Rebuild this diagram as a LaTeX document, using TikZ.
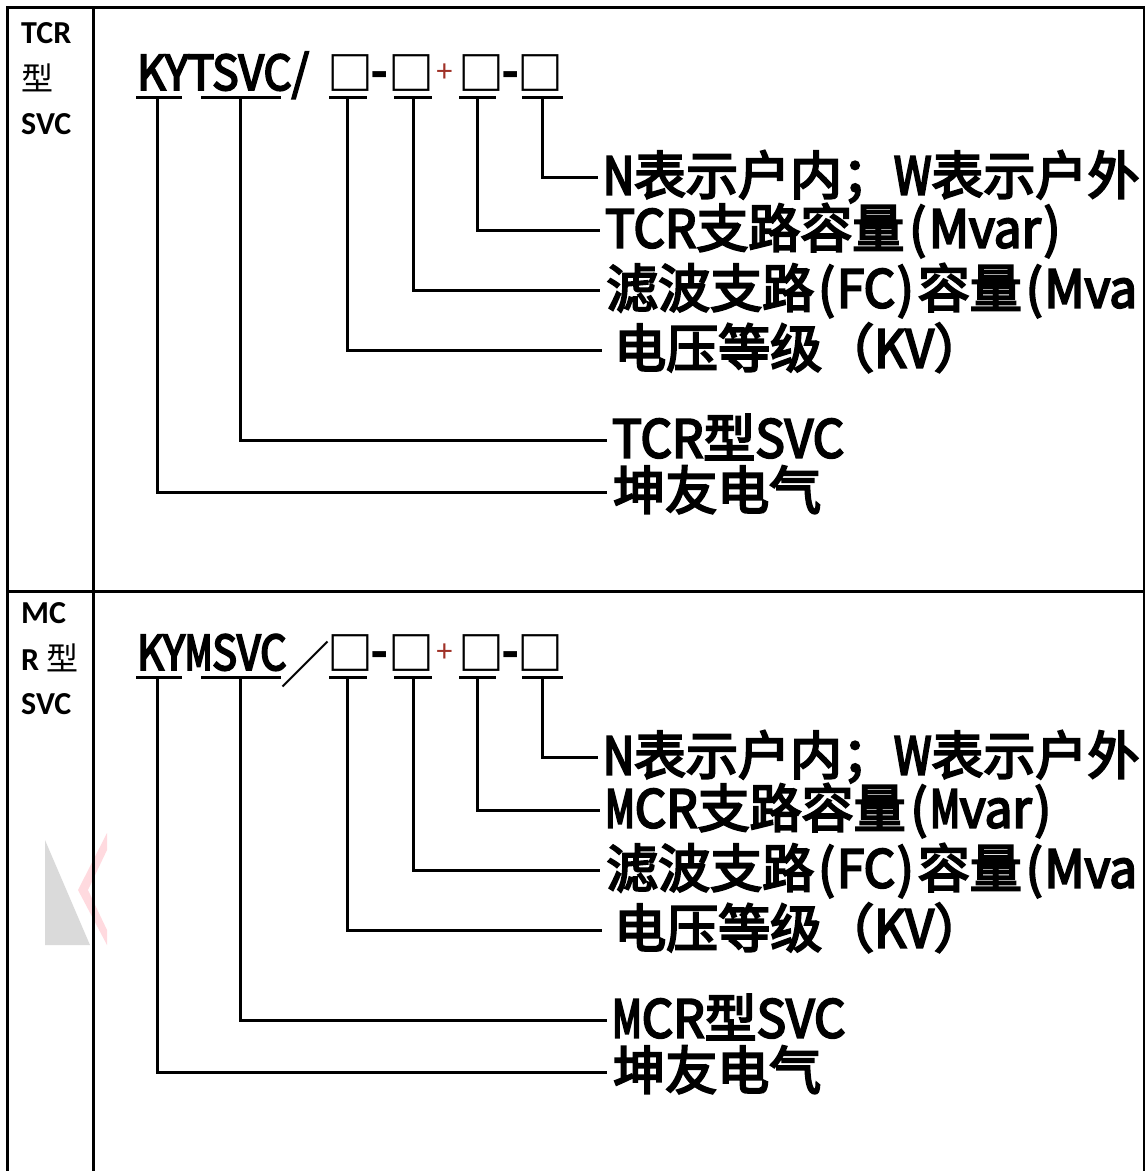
\documentclass[tikz,border=0pt]{standalone}
\usepackage{fontspec}
\newfontfamily\cjk{Noto Sans CJK SC}
\newfontfamily\cjkm{Noto Sans CJK SC}[FakeBold=4]
\newfontfamily\cjkn{Noto Sans CJK SC}[FakeStretch=0.82,FakeBold=4]
\newfontfamily\cjkw{Noto Sans CJK SC}[FakeStretch=0.95,FakeBold=4]
\newfontfamily\cjkt{Noto Sans CJK SC}[FakeStretch=0.92,FakeBold=4]
\newfontfamily\cjktt{Noto Sans CJK SC}[FakeStretch=0.86,FakeBold=4]
\newfontfamily\cjknn{Noto Sans CJK SC}[FakeStretch=0.70,FakeBold=4]
\newfontfamily\labf{Carlito}
\newcommand\lt[1]{{\cjkn #1}}
\newcommand\lw[1]{{\cjkw #1}}
\newcommand\nm{{\cjknn M}}
\newcommand\po{\kern5pt{\cjkw (}\kern3pt}
\newcommand\pc{\kern3pt{\cjkw )}\kern5pt}
\newcommand\pos{\kern4pt{\cjkw (}\kern2pt}
\newcommand\pcs{\kern2pt{\cjkw )}\kern4pt}
\definecolor{plusred}{RGB}{160,50,40}
\definecolor{wmgray}{RGB}{218,218,218}
\definecolor{wmpink}{RGB}{255,218,223}
\begin{document}
\begin{tikzpicture}[x=1pt,y=-1pt,
  frame/.style={line width=3pt},
  conn/.style={line width=3pt},
  lbl/.style={anchor=west, inner sep=0pt, text height=40pt, text depth=5pt, font=\cjkm\fontsize{52}{52}\selectfont},
  ttl/.style={anchor=base west, inner sep=0pt, font=\cjkt\fontsize{48}{48}\selectfont},
  ttlb/.style={anchor=base west, inner sep=0pt, font=\cjktt\fontsize{48}{48}\selectfont},
  sq/.style={inner sep=0pt, font=\cjk\bfseries\fontsize{46}{46}\selectfont},
  slsh/.style={inner sep=0pt, font=\cjk\fontsize{50}{50}\selectfont},
  dsh/.style={inner sep=0pt, font=\cjk\bfseries\fontsize{48}{48}\selectfont},
  pls/.style={inner sep=0pt, text=plusred, font=\cjk\fontsize{30}{30}\selectfont},
  side/.style={anchor=base west, inner sep=0pt, font=\labf\bfseries\fontsize{32}{32}\selectfont},
  sidec/.style={anchor=base west, inner sep=0pt, font=\cjk\fontsize{32}{32}\selectfont}]
\useasboundingbox (0,0) rectangle (1145,1171);

% watermark
\fill[wmgray] (45,840) -- (45,945) -- (90,945) -- cycle;
\fill[wmpink] (107,833) -- (78,890) -- (107,945) -- (107,930) -- (88,890) -- (107,850) -- cycle;

% frame
\draw[frame] (7,1180) -- (7,7) -- (1144,7) -- (1144,1180);
\draw[frame] (93,7) -- (93,1180);
\draw[frame] (7,591) -- (1144,591);

% ---------- row 1 ----------
\node[side] (s1a) at (21,43) {TCR};
\node[sidec] (s1b) at (21,90) {型};
\node[side] (s1c) at (21,134) {SVC};

\node[ttl] (t1) at (137,90) {KYTSVC/};
\node[sq] (b11) at (350,73) {□};
\node[dsh] (d11) at (380,80) {-};
\node[sq] (b12) at (411,73) {□};
\node[pls] (pl1) at (445,73) {+};
\node[sq] (b13) at (481,73) {□};
\node[dsh] (d12) at (511,80) {-};
\node[sq] (b14) at (540,73) {□};

\coordinate (p11) at (157,97);
\coordinate (p12) at (240,97);
\coordinate (p13) at (347,97);
\coordinate (p14) at (413,97);
\coordinate (p15) at (477,97);
\coordinate (p16) at (542,97);
\draw[conn] ([xshift=-21pt]p11) -- ([xshift=25pt]p11);
\draw[conn] ([xshift=-39pt]p12) -- ([xshift=41pt]p12);
\draw[conn] ([xshift=-18pt]p13) -- ([xshift=20pt]p13);
\draw[conn] ([xshift=-19pt]p14) -- ([xshift=19pt]p14);
\draw[conn] ([xshift=-18pt]p15) -- ([xshift=19pt]p15);
\draw[conn] ([xshift=-20pt]p16) -- ([xshift=21pt]p16);

\node[lbl] (a1) at (603,177) {\lt{N}表示户内；\lt{W}表示户外};
\node[lbl] (b1) at (605,230) {\lw{TCR}支路容量\po\lw{Mvar}\pc};
\node[lbl] (c1) at (606,290) {滤波支路\pos\lw{FC}\pcs 容量\pos\lw{Mva}};
\node[lbl] (e1) at (614,350) {电压等级（\lw{KV}）};
\node[lbl] (f1) at (612,440) {\lw{TCR}型\lw{SVC}};
\node[lbl] (g1) at (613,492) {坤友电气};

\draw[conn] (p16) |- ([xshift=-5pt]a1.west);
\draw[conn] (p15) |- ([xshift=-5pt]b1.west);
\draw[conn] (p14) |- ([xshift=-6pt]c1.west);
\draw[conn] (p13) |- ([xshift=-12pt]e1.west);
\draw[conn] (p12) |- ([xshift=-5pt]f1.west);
\draw[conn] (p11) |- ([xshift=-6pt]g1.west);

% ---------- row 2 ----------
\node[side] (s2a) at (21,623) {MC};
\node[side] (s2b) at (21,670) {R {\cjk\mdseries 型}};
\node[side] (s2c) at (21,714) {SVC};

\node[ttlb] (t2) at (137,670) {KY\nm SVC};
\node[slsh] (sl2) at (305,664) {／};
\node[sq] (b21) at (350,653) {□};
\node[dsh] (d21) at (380,660) {-};
\node[sq] (b22) at (411,653) {□};
\node[pls] (pl2) at (445,653) {+};
\node[sq] (b23) at (481,653) {□};
\node[dsh] (d22) at (511,660) {-};
\node[sq] (b24) at (540,653) {□};

\coordinate (p21) at (157,677);
\coordinate (p22) at (240,677);
\coordinate (p23) at (347,677);
\coordinate (p24) at (413,677);
\coordinate (p25) at (477,677);
\coordinate (p26) at (542,677);
\draw[conn] ([xshift=-21pt]p21) -- ([xshift=25pt]p21);
\draw[conn] ([xshift=-39pt]p22) -- ([xshift=41pt]p22);
\draw[conn] ([xshift=-18pt]p23) -- ([xshift=20pt]p23);
\draw[conn] ([xshift=-19pt]p24) -- ([xshift=19pt]p24);
\draw[conn] ([xshift=-18pt]p25) -- ([xshift=19pt]p25);
\draw[conn] ([xshift=-20pt]p26) -- ([xshift=21pt]p26);

\node[lbl] (a2) at (603,757) {\lt{N}表示户内；\lt{W}表示户外};
\node[lbl] (b2) at (605,810) {\lw{\nm CR}支路容量\po\lw{\nm var}\pc};
\node[lbl] (c2) at (606,870) {滤波支路\pos\lw{FC}\pcs 容量\pos\lw{Mva}};
\node[lbl] (e2) at (614,930) {电压等级（\lw{KV}）};
\node[lbl] (f2) at (612,1020) {\lw{\nm CR}型\lw{SVC}};
\node[lbl] (g2) at (613,1072) {坤友电气};

\draw[conn] (p26) |- ([xshift=-5pt]a2.west);
\draw[conn] (p25) |- ([xshift=-5pt]b2.west);
\draw[conn] (p24) |- ([xshift=-6pt]c2.west);
\draw[conn] (p23) |- ([xshift=-12pt]e2.west);
\draw[conn] (p22) |- ([xshift=-5pt]f2.west);
\draw[conn] (p21) |- ([xshift=-6pt]g2.west);
\end{tikzpicture}
\end{document}
